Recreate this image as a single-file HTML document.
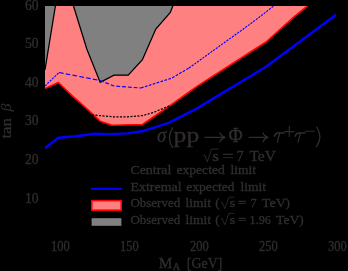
<!DOCTYPE html>
<html><head><meta charset="utf-8">
<style>
html,body{margin:0;padding:0;background:#000;}
body{width:348px;height:271px;overflow:hidden;position:relative;}
svg{position:absolute;left:0;top:0;display:block;}
#txt{will-change:transform;}
text{font-family:"Liberation Serif",serif;fill:#312d2d;stroke:#312d2d;stroke-width:0.3px;}
</style></head><body>
<svg width="348" height="271" viewBox="0 0 348 271">
<defs><clipPath id="c"><rect x="45" y="6" width="292" height="231"/></clipPath></defs>
<g clip-path="url(#c)">
<!-- gray region -->
<polygon points="45,6 172.8,6 170.3,12.5 155.8,29 142.4,59.7 128.2,75.2 114,75.2 100.2,82.4 86.8,49 73.5,6 55.4,6 45,69.8" fill="#808080"/>
<!-- red region -->
<polygon points="45,69.8 55.4,6 73.5,6 86.8,49 100.2,82.4 114,75.2 128.2,75.2 142.4,59.7 155.8,29 170.3,12.5 172.8,6 307.6,6 294,16.9 266,42 197,86.3 169.3,106.2 142.5,124.5 112,125.3 100.2,121.2 86.4,108.3 72.6,96.1 58.4,82.6 45,88.5" fill="#ff8080"/>
<!-- black boundary lines -->
<polyline points="45,69.8 55.4,6 55.6,5" fill="none" stroke="#000" stroke-width="1.25"/>
<polyline points="73.2,5 73.5,6 86.8,49 100.2,82.4 114,75.2 128.2,75.2 142.4,59.7 155.8,29 170.3,12.5 172.8,6 173.2,5" fill="none" stroke="#000" stroke-width="1.25" stroke-linejoin="miter"/>
<!-- red observed line -->
<polyline points="45,88.5 58.4,82.6 72.6,96.1 86.4,108.3 100.2,121.2 112,125.3 142.5,124.5 169.3,106.2 197,86.3 266,42 294,16.9 308.2,5.4" fill="none" stroke="#ff0000" stroke-width="1.6" stroke-linejoin="round"/>
<!-- black dashed central expected -->
<polyline points="92,114.9 114,116.9 128,116.8 142.5,115.6 153,112.6 170.5,105.4" fill="none" stroke="#000" stroke-width="1.25" stroke-dasharray="2.1,1.4"/>
<!-- blue dashed -->
<g fill="none" stroke="#0000ff" stroke-width="1.15">
<polyline points="45,86 59,72.5" stroke-dasharray="2.2,1.1"/>
<polyline points="59,72.5 100,80.5" stroke-dasharray="4.6,2.3"/>
<polyline points="100,80.5 114,86 141,88" stroke-dasharray="3.8,2.0"/>
<polyline points="141,88 172,78 189,68" stroke-dasharray="2.7,1.4"/>
<polyline points="189,68 250,24.2 273.5,6.2 275,5" stroke-dasharray="2.2,1.1"/>
</g>
<!-- blue solid -->
<polyline points="45,148 58.5,137.8 75,136.3 95,133.8 110,134.1 127,133.4 141.7,131.3 155.5,127.1 169.3,122.6 197,108.4 266,66.8 336,14.8" fill="none" stroke="#0000ff" stroke-width="2.4" stroke-linejoin="round"/>
</g>
<!-- legend -->
<line x1="91" y1="188.8" x2="122" y2="188.8" stroke="#0000ff" stroke-width="2.2"/>
<rect x="91.8" y="200.6" width="29.4" height="9.6" fill="#ff8080" stroke="#ff0000" stroke-width="1.6"/>
<rect x="91.6" y="218.2" width="29.8" height="7.6" fill="#808080"/>
<g id="txt">
<text x="25.0" y="9.7" font-size="13.9" textLength="13.6" lengthAdjust="spacingAndGlyphs" text-anchor="start">60</text>
<text x="25.0" y="48.0" font-size="13.9" textLength="13.6" lengthAdjust="spacingAndGlyphs" text-anchor="start">50</text>
<text x="25.0" y="86.7" font-size="13.9" textLength="13.6" lengthAdjust="spacingAndGlyphs" text-anchor="start">40</text>
<text x="25.0" y="125.3" font-size="13.9" textLength="13.6" lengthAdjust="spacingAndGlyphs" text-anchor="start">30</text>
<text x="25.0" y="163.9" font-size="13.9" textLength="13.6" lengthAdjust="spacingAndGlyphs" text-anchor="start">20</text>
<text x="25.0" y="202.5" font-size="13.9" textLength="13.6" lengthAdjust="spacingAndGlyphs" text-anchor="start">10</text>
<text x="50.9" y="251.3" font-size="13.6" textLength="18.8" lengthAdjust="spacingAndGlyphs" text-anchor="start">100</text>
<text x="119.9" y="251.3" font-size="13.6" textLength="18.8" lengthAdjust="spacingAndGlyphs" text-anchor="start">150</text>
<text x="189.9" y="251.3" font-size="13.6" textLength="18.8" lengthAdjust="spacingAndGlyphs" text-anchor="start">200</text>
<text x="258.9" y="251.3" font-size="13.6" textLength="18.8" lengthAdjust="spacingAndGlyphs" text-anchor="start">250</text>
<text x="327.9" y="251.3" font-size="13.6" textLength="18.8" lengthAdjust="spacingAndGlyphs" text-anchor="start">300</text>
<text x="158.8" y="268" font-size="14.5" textLength="13.6" lengthAdjust="spacingAndGlyphs" text-anchor="start">M</text>
<text x="172.8" y="270" font-size="10" textLength="7.4" lengthAdjust="spacingAndGlyphs" text-anchor="start">A</text>
<text x="186.8" y="268" font-size="14.5" textLength="35.5" lengthAdjust="spacingAndGlyphs" text-anchor="start">[GeV]</text>
<g transform="translate(10.5,138.6) rotate(-90)"><text x="0" y="0" font-size="14.5" textLength="20.5" lengthAdjust="spacingAndGlyphs" text-anchor="start">tan</text><text x="27.0" y="0" font-size="14" textLength="8.0" lengthAdjust="spacingAndGlyphs" font-style="italic" text-anchor="start" style="stroke-width:0">β</text></g>
<text x="157.0" y="141.8" font-size="22" textLength="9.4" lengthAdjust="spacingAndGlyphs" font-style="italic" text-anchor="start">σ</text>
<path d="M172.6,127.8 Q166.2,137.7 172.6,147.6" stroke="#312d2d" stroke-width="1.3" fill="none" stroke-linecap="round" stroke-linejoin="round"/>
<text x="173.6" y="141.8" font-size="22" textLength="25.6" lengthAdjust="spacingAndGlyphs" text-anchor="start">pp</text>
<text x="228.4" y="141.8" font-size="22" textLength="14.2" lengthAdjust="spacingAndGlyphs" text-anchor="start">Φ</text>
<g transform="translate(274,142.2)"><path d="M0.4,-5.9 C1.0,-8.0 2.2,-9.2 4.2,-9.2 H10.2" stroke="#312d2d" stroke-width="1.4" fill="none" stroke-linecap="round" stroke-linejoin="round"/><path d="M5.7,-9.2 C5.1,-6 3.5,-3 3.5,-0.2" stroke="#312d2d" stroke-width="1.3" fill="none" stroke-linecap="round" stroke-linejoin="round"/></g>
<path d="M284.8,131.6 H293.8 M289.3,126.4 V136.4" stroke="#312d2d" stroke-width="1.1" fill="none" stroke-linecap="round" stroke-linejoin="round"/>
<g transform="translate(294.7,142.2)"><path d="M0.4,-5.9 C1.0,-8.0 2.2,-9.2 4.2,-9.2 H10.2" stroke="#312d2d" stroke-width="1.4" fill="none" stroke-linecap="round" stroke-linejoin="round"/><path d="M5.7,-9.2 C5.1,-6 3.5,-3 3.5,-0.2" stroke="#312d2d" stroke-width="1.3" fill="none" stroke-linecap="round" stroke-linejoin="round"/></g>
<path d="M305.4,131.2 H314.2" stroke="#312d2d" stroke-width="1.1" fill="none" stroke-linecap="round" stroke-linejoin="round"/>
<path d="M316.6,127 Q323.2,136.8 316.6,146.6" stroke="#312d2d" stroke-width="1.3" fill="none" stroke-linecap="round" stroke-linejoin="round"/>
<path d="M204.8,137.4 H224.5" stroke="#312d2d" stroke-width="1.1" fill="none" stroke-linecap="round" stroke-linejoin="round"/><path d="M219.8,132.8 Q221.4,136.6 225,137.4 Q221.4,138.20000000000002 219.8,142.0" stroke="#312d2d" stroke-width="1.1" fill="none" stroke-linecap="round" stroke-linejoin="round"/>
<path d="M249.2,137.4 H267.5" stroke="#312d2d" stroke-width="1.1" fill="none" stroke-linecap="round" stroke-linejoin="round"/><path d="M262.8,132.8 Q264.4,136.6 268,137.4 Q264.4,138.20000000000002 262.8,142.0" stroke="#312d2d" stroke-width="1.1" fill="none" stroke-linecap="round" stroke-linejoin="round"/>
<path d="M203.3,155.82799999999997 L204.70000000000002,154.89999999999998 L207.3,161.89999999999998 L211.5,149.1 H218.9" stroke="#312d2d" stroke-width="0.9" fill="none" stroke-linejoin="miter"/>
<text x="212.2" y="160.7" font-size="14.5" textLength="6.6" lengthAdjust="spacingAndGlyphs" text-anchor="start">s</text>
<text x="222.4" y="160.7" font-size="14.5" textLength="11.2" lengthAdjust="spacingAndGlyphs" text-anchor="start">=</text>
<text x="236.4" y="160.7" font-size="14.5" textLength="7.2" lengthAdjust="spacingAndGlyphs" text-anchor="start">7</text>
<text x="249.4" y="160.7" font-size="14.5" textLength="26.6" lengthAdjust="spacingAndGlyphs" text-anchor="start">TeV</text>
<text x="130.4" y="174.2" font-size="12.6" textLength="41" lengthAdjust="spacingAndGlyphs" text-anchor="start">Central</text>
<text x="176.4" y="174.2" font-size="12.6" textLength="48.4" lengthAdjust="spacingAndGlyphs" text-anchor="start">expected</text>
<text x="230.4" y="174.2" font-size="12.6" textLength="25.6" lengthAdjust="spacingAndGlyphs" text-anchor="start">limit</text>
<text x="130.4" y="190.9" font-size="12.6" textLength="51.2" lengthAdjust="spacingAndGlyphs" text-anchor="start">Extremal</text>
<text x="186.2" y="190.9" font-size="12.6" textLength="48.4" lengthAdjust="spacingAndGlyphs" text-anchor="start">expected</text>
<text x="240.4" y="190.9" font-size="12.6" textLength="25.6" lengthAdjust="spacingAndGlyphs" text-anchor="start">limit</text>
<text x="130.4" y="207.4" font-size="12.6" textLength="49.8" lengthAdjust="spacingAndGlyphs" text-anchor="start">Observed</text>
<text x="185.4" y="207.4" font-size="12.6" textLength="25.6" lengthAdjust="spacingAndGlyphs" text-anchor="start">limit</text>
<text x="215.2" y="207.4" font-size="12.6" textLength="4.4" lengthAdjust="spacingAndGlyphs" text-anchor="start">(</text>
<path d="M220.8,203.116 L222.20000000000002,202.3 L224.8,208.6 L229.0,197.20000000000002 H234.6" stroke="#312d2d" stroke-width="0.8" fill="none" stroke-linejoin="miter"/>
<text x="229.4" y="207.4" font-size="12.6" textLength="5.8" lengthAdjust="spacingAndGlyphs" text-anchor="start">s</text>
<text x="237.8" y="207.4" font-size="12.6" textLength="8.8" lengthAdjust="spacingAndGlyphs" text-anchor="start">=</text>
<text x="130.4" y="223.6" font-size="12.6" textLength="49.8" lengthAdjust="spacingAndGlyphs" text-anchor="start">Observed</text>
<text x="185.4" y="223.6" font-size="12.6" textLength="25.6" lengthAdjust="spacingAndGlyphs" text-anchor="start">limit</text>
<text x="215.2" y="223.6" font-size="12.6" textLength="4.4" lengthAdjust="spacingAndGlyphs" text-anchor="start">(</text>
<path d="M220.8,219.316 L222.20000000000002,218.5 L224.8,224.79999999999998 L229.0,213.4 H234.6" stroke="#312d2d" stroke-width="0.8" fill="none" stroke-linejoin="miter"/>
<text x="229.4" y="223.6" font-size="12.6" textLength="5.8" lengthAdjust="spacingAndGlyphs" text-anchor="start">s</text>
<text x="237.8" y="223.6" font-size="12.6" textLength="8.8" lengthAdjust="spacingAndGlyphs" text-anchor="start">=</text>
<text x="250.5" y="207.4" font-size="12.6" textLength="6.2" lengthAdjust="spacingAndGlyphs" text-anchor="start">7</text>
<text x="261.8" y="207.4" font-size="12.6" textLength="24" lengthAdjust="spacingAndGlyphs" text-anchor="start">TeV</text>
<text x="285.4" y="207.4" font-size="12.6" textLength="4.4" lengthAdjust="spacingAndGlyphs" text-anchor="start">)</text>
<text x="249.6" y="223.6" font-size="12.6" textLength="21.4" lengthAdjust="spacingAndGlyphs" text-anchor="start">1.96</text>
<text x="276" y="223.6" font-size="12.6" textLength="23.6" lengthAdjust="spacingAndGlyphs" text-anchor="start">TeV</text>
<text x="299.2" y="223.6" font-size="12.6" textLength="4.4" lengthAdjust="spacingAndGlyphs" text-anchor="start">)</text>
</g>
</svg>
</body></html>
